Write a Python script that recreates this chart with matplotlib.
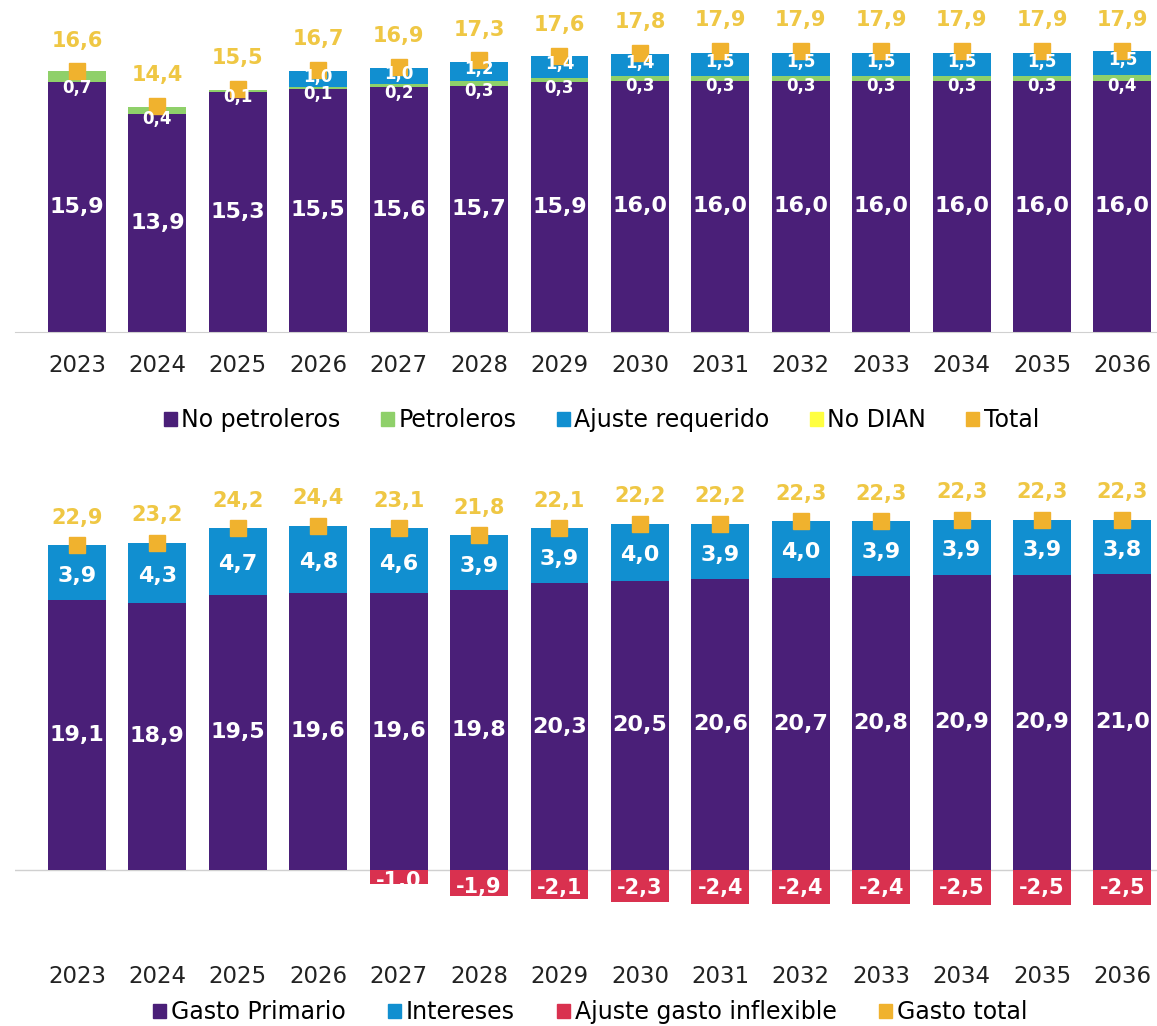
import numpy as np
import matplotlib.pyplot as plt
from matplotlib.patches import Patch

years = [str(y) for y in range(2023, 2037)]

# Ingresos (top)
no_petroleros = [15.9, 13.9, 15.3, 15.5, 15.6, 15.7, 15.9, 16.0, 16.0, 16.0, 16.0, 16.0, 16.0, 16.0]
petroleros = [0.7, 0.4, 0.1, 0.1, 0.2, 0.3, 0.3, 0.3, 0.3, 0.3, 0.3, 0.3, 0.3, 0.4]
ajuste_req = [0.0, 0.0, 0.0, 1.0, 1.0, 1.2, 1.4, 1.4, 1.5, 1.5, 1.5, 1.5, 1.5, 1.5]
no_dian = [0.0] * 14
total_ing = [16.6, 14.4, 15.5, 16.7, 16.9, 17.3, 17.6, 17.8, 17.9, 17.9, 17.9, 17.9, 17.9, 17.9]

# Gastos (bottom)
gasto_primario = [19.1, 18.9, 19.5, 19.6, 19.6, 19.8, 20.3, 20.5, 20.6, 20.7, 20.8, 20.9, 20.9, 21.0]
intereses = [3.9, 4.3, 4.7, 4.8, 4.6, 3.9, 3.9, 4.0, 3.9, 4.0, 3.9, 3.9, 3.9, 3.8]
ajuste_inflex = [0.0, 0.0, 0.0, 0.0, -1.0, -1.9, -2.1, -2.3, -2.4, -2.4, -2.4, -2.5, -2.5, -2.5]
gasto_total = [22.9, 23.2, 24.2, 24.4, 23.1, 21.8, 22.1, 22.2, 22.2, 22.3, 22.3, 22.3, 22.3, 22.3]

PURPLE = '#4a1f78'
GREEN = '#8fd06a'
BLUE = '#118fd0'
YELLOW = '#ffff40'
ORANGE = '#f0b22e'
RED = '#d9314f'
LABEL_GOLD = '#efc744'

def fmt(v):
    return f'{v:.1f}'.replace('.', ',')

plt.rcParams['font.family'] = ['DejaVu Sans']
fig = plt.figure(figsize=(11.57, 10.26), dpi=100)
W, H = 1157, 1026
x = np.arange(len(years))
bw = 0.72

# ---- top chart ----
ax1 = fig.add_axes([15 / W, 1 - 332 / H, 1142 / W, 314 / H])
b1 = np.array(no_petroleros)
b2 = b1 + np.array(petroleros)
b3 = b2 + np.array(ajuste_req)
ax1.bar(x, no_petroleros, bw, color=PURPLE)
ax1.bar(x, petroleros, bw, bottom=b1, color=GREEN)
ax1.bar(x, ajuste_req, bw, bottom=b2, color=BLUE)
ax1.bar(x, no_dian, bw, bottom=b3, color=YELLOW)
ax1.plot(x, total_ing, 's', color=ORANGE, markersize=11, zorder=5)
for i in range(len(x)):
    ax1.text(x[i], no_petroleros[i] / 2, fmt(no_petroleros[i]), ha='center', va='center',
             color='white', fontsize=16, fontweight='bold')
    ax1.text(x[i], b1[i] - 0.35, fmt(petroleros[i]), ha='center', va='center',
             color='white', fontsize=12, fontweight='bold', zorder=6)
    if ajuste_req[i] > 0:
        ax1.text(x[i], b2[i] + ajuste_req[i] / 2 + 0.15, fmt(ajuste_req[i]), ha='center', va='center',
                 color='white', fontsize=12, fontweight='bold', zorder=6)
    ax1.annotate(fmt(total_ing[i]), (x[i], total_ing[i]), xytext=(0, 22), textcoords='offset points',
                 ha='center', va='center', color=LABEL_GOLD, fontsize=15, fontweight='bold',
                 annotation_clip=False)
ax1.set_xlim(-0.77, 13.43)
ax1.set_ylim(0, 20)
ax1.set_yticks([])
ax1.set_xticks(x)
ax1.set_xticklabels(years, fontsize=16.5, color='#222222')
ax1.tick_params(axis='x', length=0, pad=16)
for s in ['top', 'right', 'left']:
    ax1.spines[s].set_visible(False)
ax1.spines['bottom'].set_color('#d0d0d0')
ax1.patch.set_alpha(0)

leg_font = {'size': 17}
h1 = [Patch(color=PURPLE, label='No petroleros'), Patch(color=GREEN, label='Petroleros'),
      Patch(color=BLUE, label='Ajuste requerido'), Patch(color=YELLOW, label='No DIAN'),
      Patch(color=ORANGE, label='Total')]
fig.legend(handles=h1, loc='center', bbox_to_anchor=(0.52, 1 - 420 / H), ncol=5, frameon=False,
           prop=leg_font, handlelength=0.55, handleheight=0.55, handletextpad=0.2, columnspacing=1.7)

# ---- bottom chart ----
ax2 = fig.add_axes([15 / W, 1 - 912 / H, 1142 / W, 416 / H])
pos_top = np.array(gasto_primario) + np.array(intereses)
ax2.bar(x, gasto_primario, bw, color=PURPLE)
ax2.bar(x, intereses, bw, bottom=gasto_primario, color=BLUE)
ax2.bar(x, ajuste_inflex, bw, color=RED)
ax2.plot(x, pos_top, 's', color=ORANGE, markersize=11, zorder=5)
for i in range(len(x)):
    ax2.text(x[i], gasto_primario[i] / 2, fmt(gasto_primario[i]), ha='center', va='center',
             color='white', fontsize=16, fontweight='bold')
    ax2.text(x[i], gasto_primario[i] + intereses[i] / 2 - 0.2, fmt(intereses[i]), ha='center',
             va='center', color='white', fontsize=16, fontweight='bold')
    if ajuste_inflex[i] < 0:
        ax2.text(x[i], max(ajuste_inflex[i] / 2 - 0.3, -1.3), fmt(ajuste_inflex[i]), ha='center',
                 va='center', color='white', fontsize=15, fontweight='bold', zorder=6)
    ax2.annotate(fmt(gasto_total[i]), (x[i], pos_top[i]), xytext=(0, 20), textcoords='offset points',
                 ha='center', va='center', color=LABEL_GOLD, fontsize=15, fontweight='bold',
                 annotation_clip=False)
ax2.set_xlim(-0.77, 13.43)
ax2.set_ylim(-3, 26.5)
ax2.set_yticks([])
ax2.set_xticks(x)
ax2.set_xticklabels(years, fontsize=16.5, color='#222222')
ax2.tick_params(axis='x', length=0, pad=38)
for s in ['top', 'right', 'left', 'bottom']:
    ax2.spines[s].set_visible(False)
ax2.axhline(0, color='#d0d0d0', lw=1, zorder=0)
ax2.patch.set_alpha(0)

h2 = [Patch(color=PURPLE, label='Gasto Primario'), Patch(color=BLUE, label='Intereses'),
      Patch(color=RED, label='Ajuste gasto inflexible'), Patch(color=ORANGE, label='Gasto total')]
fig.legend(handles=h2, loc='center', bbox_to_anchor=(0.51, 1 - 1012 / H), ncol=4, frameon=False,
           prop=leg_font, handlelength=0.55, handleheight=0.55, handletextpad=0.2, columnspacing=1.8)

fig.savefig('out.png', dpi=100)
